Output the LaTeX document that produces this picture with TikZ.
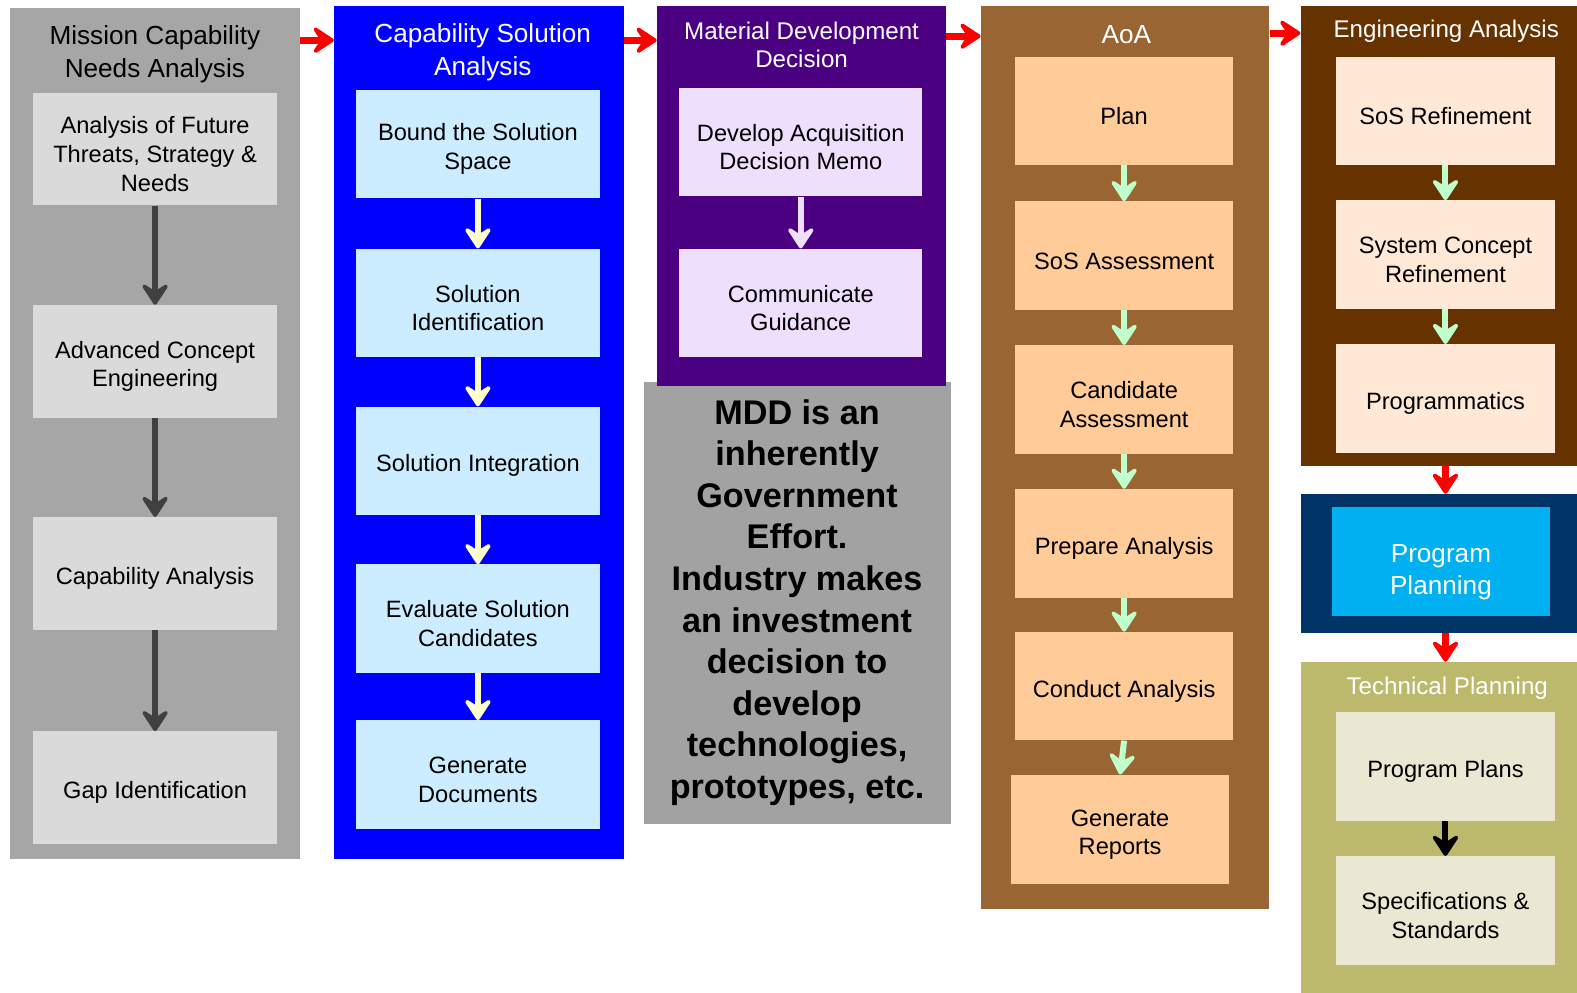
\documentclass[tikz,border=0pt]{standalone}
\usepackage{fontspec}
\setmainfont{Liberation Sans}
\usetikzlibrary{positioning, arrows.meta, calc}

\definecolor{needsgray}{HTML}{A6A6A6}
\definecolor{needsbox}{HTML}{DADADA}
\definecolor{needsarrow}{HTML}{404040}
\definecolor{solblue}{HTML}{0000FF}
\definecolor{solbox}{HTML}{CCECFF}
\definecolor{solarrow}{HTML}{FFFFCC}
\definecolor{mddpurple}{HTML}{4B0082}
\definecolor{mddbox}{HTML}{EEDFFC}
\definecolor{notegray}{HTML}{A2A2A2}
\definecolor{aoabrown}{HTML}{996633}
\definecolor{aoabox}{HTML}{FFCC99}
\definecolor{mint}{HTML}{C0FFCC}
\definecolor{engbrown}{HTML}{663300}
\definecolor{engbox}{HTML}{FFE8D6}
\definecolor{plannavy}{HTML}{003366}
\definecolor{plancyan}{HTML}{00B0F0}
\definecolor{techolive}{HTML}{BCB86C}
\definecolor{techbox}{HTML}{EAE8D3}

\newcommand{\boxfont}{\fontsize{23.5pt}{28.5pt}\selectfont}
\newcommand{\headfont}{\fontsize{26pt}{32pt}\selectfont}
\newcommand{\subheadfont}{\fontsize{24pt}{28pt}\selectfont}
\newcommand{\notefont}{\fontsize{34pt}{41.3pt}\selectfont\bfseries}
% taller first line, so box text sits a little low
\newcommand{\lowtext}{\rule{0pt}{27pt}}

\begin{document}
\begin{tikzpicture}[
    x=1pt, y=-1pt,
    panel/.style={rectangle, inner sep=0pt, anchor=north west},
    stepbox/.style={rectangle, inner sep=0pt, anchor=north west, minimum height=108pt, align=center, font=\boxfont},
    heading/.style={align=center, font=\headfont, text=white},
    flow/.style={line width=6pt, -{Stealth[length=26pt, width=34pt, inset=11pt, round]}},
    redarrow/.style={flow, draw=red, line width=7pt}
]
\useasboundingbox[fill=white] (0,0) rectangle (1568,987);

% column backgrounds
\node[panel, fill=needsgray, minimum width=288pt, minimum height=846pt] (mcna) at (10,8) {};
\node[panel, fill=solblue, minimum width=288pt, minimum height=848pt] (csa) at (332,6) {};
\node[panel, fill=notegray, minimum width=305pt, minimum height=439pt] (govnote) at (640,380) {};
\node[panel, fill=mddpurple, minimum width=287pt, minimum height=378pt] (mdd) at (653,6) {};
\node[panel, fill=aoabrown, minimum width=287pt, minimum height=898pt] (aoa) at (975,6) {};
\node[panel, fill=engbrown, minimum width=275pt, minimum height=457pt] (ea) at (1293,6) {};
\node[panel, fill=plannavy, minimum width=275pt, minimum height=138pt] (pp) at (1293,491) {};
\node[panel, fill=techolive, minimum width=275pt, minimum height=329pt] (tp) at (1293,658) {};

% headings
\node[heading, text=black] (mcnatitle) at (154,54) {Mission Capability\\Needs Analysis};
\node[heading] (csatitle) at (480,52) {Capability Solution\\Analysis};
\node[heading, font=\subheadfont] (mddtitle) at (797,45) {Material Development\\Decision};
\node[heading] (aoatitle) at (1120,34) {AoA};
\node[heading, font=\subheadfont] (eatitle) at (1438,31) {Engineering Analysis};
\node[heading, font=\subheadfont] (tptitle) at (1439,684) {Technical Planning};

% mission capability needs analysis
\node[stepbox, fill=needsbox, minimum width=242pt, minimum height=112pt] (future) at (33,92) {\lowtext Analysis of Future\\Threats, Strategy \&\\Needs};
\node[stepbox, fill=needsbox, minimum width=242pt, minimum height=112pt] (ace) at (33,303) {\lowtext Advanced Concept\\Engineering};
\node[stepbox, fill=needsbox, minimum width=242pt, minimum height=112pt] (capan) at (33,514) {\lowtext Capability Analysis};
\node[stepbox, fill=needsbox, minimum width=242pt, minimum height=112pt] (gapid) at (33,727) {\lowtext Gap Identification};

\draw[flow, draw=needsarrow] (future) -- (ace);
\draw[flow, draw=needsarrow] (ace) -- (capan);
\draw[flow, draw=needsarrow] (capan) -- (gapid);

% capability solution analysis
\node[stepbox, fill=solbox, minimum width=242pt] (bound) at (354,89) {\lowtext Bound the Solution\\Space};
\node[stepbox, fill=solbox, minimum width=242pt] (solid) at (354,247) {\lowtext Solution\\Identification};
\node[stepbox, fill=solbox, minimum width=242pt] (solint) at (354,404) {\lowtext Solution Integration};
\node[stepbox, fill=solbox, minimum width=242pt] (evalsol) at (354,561) {\lowtext Evaluate Solution\\Candidates};
\node[stepbox, fill=solbox, minimum width=242pt] (gendocs) at (354,716) {\lowtext Generate\\Documents};

\draw[flow, draw=solarrow] (bound) -- (solid);
\draw[flow, draw=solarrow] (solid) -- (solint);
\draw[flow, draw=solarrow] (solint) -- (evalsol);
\draw[flow, draw=solarrow] (evalsol) -- (gendocs);

% material development decision
\node[stepbox, fill=mddbox, minimum width=242pt] (memo) at (675,87) {\lowtext Develop Acquisition\\Decision Memo};
\node[stepbox, fill=mddbox, minimum width=242pt] (guidance) at (675,247) {\lowtext Communicate\\Guidance};

\draw[flow, draw=mddbox] (memo) -- (guidance);

\node[align=center, font=\notefont] (notetext) at (792.5,599) {MDD is an\\inherently\\Government\\Effort.\\Industry makes\\an investment\\decision to\\develop\\technologies,\\prototypes, etc.};

% analysis of alternatives
\node[stepbox, fill=aoabox, minimum width=217pt] (plan) at (1009,56) {\lowtext Plan};
\node[stepbox, fill=aoabox, minimum width=217pt] (sosassess) at (1009,200) {\lowtext SoS Assessment};
\node[stepbox, fill=aoabox, minimum width=217pt] (candassess) at (1009,343) {\lowtext Candidate\\Assessment};
\node[stepbox, fill=aoabox, minimum width=217pt] (prepare) at (1009,486) {\lowtext Prepare Analysis};
\node[stepbox, fill=aoabox, minimum width=217pt] (conduct) at (1009,628) {\lowtext Conduct Analysis};
\node[stepbox, fill=aoabox, minimum width=217pt, minimum height=109pt] (reports) at (1005,770) {\lowtext Generate\\Reports};

\draw[flow, draw=mint] (plan) -- (sosassess);
\draw[flow, draw=mint] (sosassess) -- (candassess);
\draw[flow, draw=mint] (candassess) -- (prepare);
\draw[flow, draw=mint] (prepare) -- (conduct);
\draw[flow, draw=mint] (conduct.south) -- (reports.north);

% engineering analysis
\node[stepbox, fill=engbox, minimum width=218pt] (sosref) at (1328,56) {\lowtext SoS Refinement};
\node[stepbox, fill=engbox, minimum width=218pt] (concept) at (1328,199) {\lowtext System Concept\\Refinement};
\node[stepbox, fill=engbox, minimum width=218pt] (progmatics) at (1328,342) {\lowtext Programmatics};

\draw[flow, draw=mint] (sosref) -- (concept);
\draw[flow, draw=mint] (concept) -- (progmatics);

% program and technical planning
\node[stepbox, fill=plancyan, minimum width=217pt, font=\headfont, text=white] (progplan) at (1324,504) {\rule{0pt}{39pt}Program\\Planning};

\node[stepbox, fill=techbox, minimum width=218pt] (plans) at (1328,708) {\lowtext Program Plans};
\node[stepbox, fill=techbox, minimum width=218pt] (specs) at (1328,851) {\lowtext Specifications \&\\Standards};

\draw[flow, draw=black] (plans) -- (specs);

% hand-offs between phases
\draw[redarrow] ($(mcna.north east)+(0,32)$) -- ($(csa.north west)+(0,34)$);
\draw[redarrow] ($(csa.north east)+(0,34)$) -- ($(mdd.north west)+(0,34)$);
\draw[redarrow] ($(mdd.north east)+(0,30)$) -- ($(aoa.north west)+(0,30)$);
\draw[redarrow] ($(aoa.north east)+(0,27)$) -- ($(ea.north west)+(0,27)$);
\draw[redarrow] (ea.south -| sosref) -- (pp.north -| sosref);
\draw[redarrow] (pp.south -| sosref) -- (tp.north -| sosref);

\end{tikzpicture}
\end{document}
